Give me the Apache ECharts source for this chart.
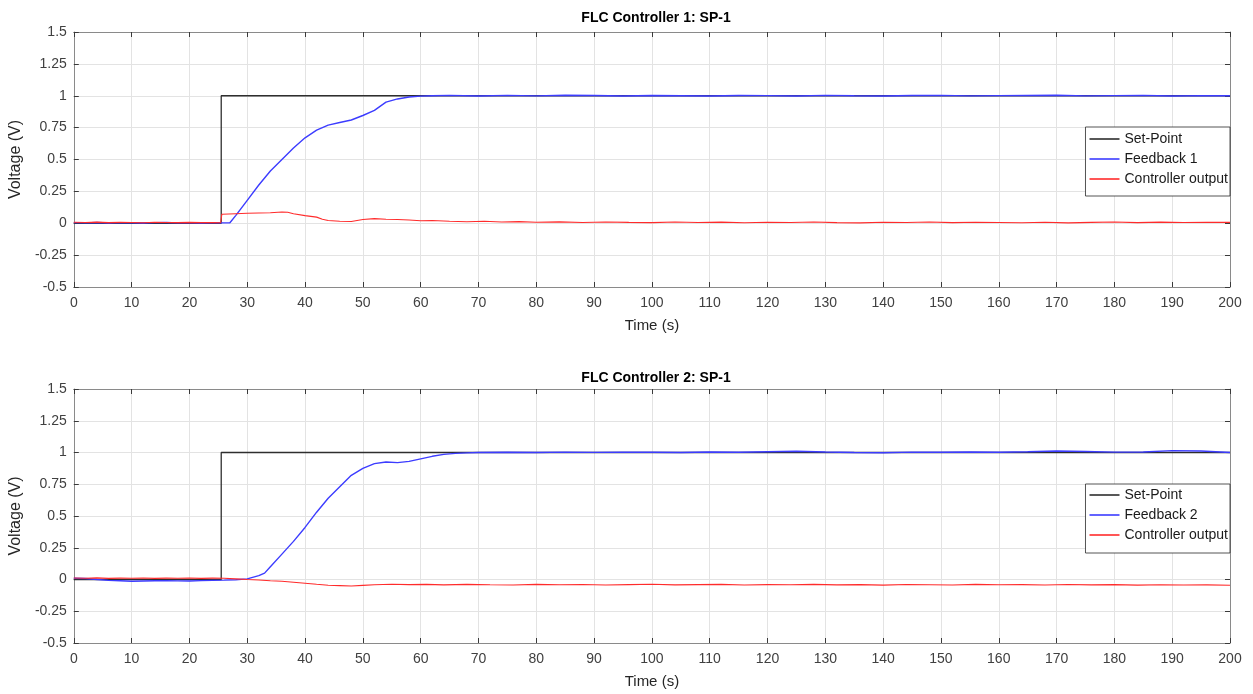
<!DOCTYPE html>
<html><head><meta charset="utf-8">
<script src="https://cdn.jsdelivr.net/npm/echarts@6/dist/echarts.min.js"></script>
<style>html,body{margin:0;padding:0;background:#fff}#c{width:1253px;height:694px}</style>
</head><body><div id="c"></div>
<script>
// ---- tick labels / titles ----
const titles = ['FLC Controller 1: SP-1', 'FLC Controller 2: SP-1'];
const fbNames = ['Feedback 1', 'Feedback 2'];
const xTicks = {min: 0, max: 200, interval: 10};
const yTicks = {min: -0.5, max: 1.5, interval: 0.25};

// ---- Set-Point (both plots) ----
const spTime = [0, 25.5, 25.5, 200];
const spVal  = [0, 0, 1, 1];

// ---- Plot 1 : Feedback 1 ----
const fb1Time = [0,2,4,6,8,10,12,14,16,18,20,22,24,26,27,28,30,32,34,36,38,40,42,44,46,48,50,52,54,56,58,60,62,65,70,75,80,85,90,95,100,105,110,115,120,125,130,135,140,145,150,155,160,165,170,175,180,185,190,195,200];
const fb1Val  = [0.005,0.003,0.006,0.002,0.005,0.004,0.002,0.005,0.006,0.003,0.004,0.002,0.004,0.003,0.004,0.06,0.18,0.30,0.41,0.50,0.59,0.67,0.73,0.77,0.79,0.81,0.845,0.885,0.95,0.975,0.99,0.997,1.0,1.003,0.998,1.003,0.999,1.004,1.002,0.998,1.002,1.0,0.998,1.002,1.001,0.998,1.003,1.0,0.998,1.002,1.003,0.999,1.001,1.002,1.004,0.999,1.001,1.003,0.998,1.001,1.0];

// ---- Plot 1 : Controller output ----
const co1Time = [0,2,4,6,8,10,12,14,16,18,20,22,24,25.4,25.6,28,30,32,34,36,37,38,40,42,43,44,46,48,50,52,54,56,58,60,62,65,68,71,74,77,80,84,88,92,96,100,104,108,112,116,120,124,128,132,136,140,144,148,152,156,160,164,168,172,176,180,184,188,192,196,200];
const co1Val  = [0.008,0.006,0.009,0.005,0.007,0.006,0.004,0.008,0.006,0.005,0.007,0.005,0.006,0.004,0.07,0.075,0.078,0.08,0.082,0.088,0.086,0.075,0.06,0.048,0.032,0.022,0.016,0.014,0.03,0.036,0.031,0.03,0.026,0.02,0.021,0.016,0.012,0.016,0.01,0.013,0.008,0.011,0.006,0.01,0.007,0.005,0.01,0.006,0.009,0.004,0.008,0.006,0.01,0.005,0.003,0.008,0.006,0.01,0.005,0.008,0.006,0.004,0.008,0.003,0.007,0.01,0.005,0.009,0.006,0.008,0.007];

// ---- Plot 2 : Feedback 2 ----
const fb2Time = [0,2,4,6,8,10,12,14,16,18,20,22,24,26,28,30,32,33,34,36,38,40,42,44,46,48,50,52,54,56,58,60,62,64,66,68,70,75,80,85,90,95,100,105,110,115,120,125,130,135,140,145,150,155,160,165,170,175,180,185,190,195,200];
const fb2Val  = [0.01,0.008,0.0,-0.007,-0.01,-0.014,-0.012,-0.01,-0.01,-0.011,-0.012,-0.009,-0.007,-0.005,-0.002,0.005,0.03,0.05,0.1,0.2,0.30,0.41,0.53,0.64,0.73,0.82,0.875,0.912,0.925,0.92,0.93,0.95,0.97,0.985,0.993,0.997,1.0,1.002,1.0,1.003,1.001,1.003,1.002,1.0,1.004,1.002,1.006,1.01,1.004,1.0,0.998,1.003,1.002,1.004,1.002,1.006,1.012,1.008,1.003,1.004,1.015,1.012,1.0];

// ---- Plot 2 : Controller output ----
const co2Time = [0,2,4,6,8,10,12,14,16,18,20,22,24,26,28,30,32,34,36,38,40,42,44,46,48,50,52,55,58,61,64,68,72,76,80,84,88,92,96,100,104,108,112,116,120,124,128,132,136,140,144,148,152,156,160,164,168,172,176,180,184,188,192,196,200];
const co2Val  = [0.012,0.01,0.013,0.009,0.011,0.01,0.012,0.009,0.011,0.01,0.012,0.009,0.011,0.01,0.005,0.0,-0.004,-0.01,-0.014,-0.022,-0.03,-0.038,-0.045,-0.048,-0.051,-0.046,-0.041,-0.037,-0.04,-0.038,-0.042,-0.038,-0.041,-0.043,-0.038,-0.041,-0.039,-0.043,-0.04,-0.037,-0.042,-0.04,-0.038,-0.043,-0.04,-0.041,-0.038,-0.042,-0.04,-0.044,-0.039,-0.041,-0.043,-0.038,-0.041,-0.04,-0.043,-0.039,-0.042,-0.04,-0.044,-0.041,-0.043,-0.042,-0.045];

const pairs = (t, v) => t.map((x, i) => [x, v[i]]);

const FONT = 'Liberation Sans, Arial, Helvetica, sans-serif';
const C_SP = '#2e2e2e', C_FB = '#3c3cff', C_CO = '#ff2b2b';
const frame = '#8a8a8a', tickCol = '#3a3a3a', labelCol = '#404040', gridCol = '#e3e3e3';

const grids = [
  {left: 72, right: 23, top: 32, height: 255},
  {left: 72, right: 23, top: 389, height: 254}
];

const xAxes = [], yAxes = [];
grids.forEach((g, gi) => {
  xAxes.push({
    type: 'value', gridIndex: gi, min: xTicks.min, max: xTicks.max, interval: xTicks.interval,
    position: 'bottom',
    name: 'Time (s)', nameLocation: 'middle', nameGap: 31,
    nameTextStyle: {fontFamily: FONT, fontSize: 15, color: '#262626'},
    axisLine: {show: true, onZero: false, lineStyle: {color: frame, width: 1}},
    axisTick: {show: true, inside: true, length: 5, lineStyle: {color: tickCol}},
    axisLabel: {fontFamily: FONT, fontSize: 14, color: labelCol, margin: 9},
    splitLine: {show: true, lineStyle: {color: gridCol, width: 1}}
  });
  xAxes.push({
    type: 'value', gridIndex: gi, min: xTicks.min, max: xTicks.max, interval: xTicks.interval,
    position: 'top',
    axisLine: {show: true, onZero: false, lineStyle: {color: frame, width: 1}},
    axisTick: {show: true, inside: true, length: 5, lineStyle: {color: tickCol}},
    axisLabel: {show: false}, splitLine: {show: false}
  });
  yAxes.push({
    type: 'value', gridIndex: gi, min: yTicks.min, max: yTicks.max, interval: yTicks.interval,
    position: 'left',
    name: 'Voltage (V)', nameLocation: 'middle', nameGap: 44,
    nameTextStyle: {fontFamily: FONT, fontSize: 16, color: '#262626'},
    axisLine: {show: true, onZero: false, lineStyle: {color: frame, width: 1}},
    axisTick: {show: true, inside: true, length: 5, lineStyle: {color: tickCol}},
    axisLabel: {fontFamily: FONT, fontSize: 14, color: labelCol, margin: 7},
    splitLine: {show: true, lineStyle: {color: gridCol, width: 1}}
  });
  yAxes.push({
    type: 'value', gridIndex: gi, min: yTicks.min, max: yTicks.max, interval: yTicks.interval,
    position: 'right',
    axisLine: {show: true, onZero: false, lineStyle: {color: frame, width: 1}},
    axisTick: {show: true, inside: true, length: 5, lineStyle: {color: tickCol}},
    axisLabel: {show: false}, splitLine: {show: false}
  });
});

function line(name, data, color, gi, w) {
  return {
    name, type: 'line', data, xAxisIndex: gi * 2, yAxisIndex: gi * 2,
    showSymbol: false, symbol: 'none', animation: false, smooth: false,
    lineStyle: {color, width: w}, itemStyle: {color}
  };
}

const series = [
  line('Set-Point', pairs(spTime, spVal), C_SP, 0, 1.3),
  line(fbNames[0], pairs(fb1Time, fb1Val), C_FB, 0, 1.4),
  line('Controller output', pairs(co1Time, co1Val), C_CO, 0, 1.1),
  line('Set-Point', pairs(spTime, spVal), C_SP, 1, 1.3),
  line(fbNames[1], pairs(fb2Time, fb2Val), C_FB, 1, 1.4),
  line('Controller output', pairs(co2Time, co2Val), C_CO, 1, 1.1)
];

function legend(top, fbName, pad) {
  return {
    orient: 'vertical', right: 23, top,
    data: ['Set-Point', fbName, 'Controller output'].map(n => ({name: n, icon: 'rect'})),
    itemWidth: 30, itemHeight: 1.6, itemGap: 4,
    backgroundColor: '#fff', borderColor: '#2a2a2a', borderWidth: 0.8, borderRadius: 0,
    padding: pad, selectedMode: false,
    textStyle: {fontFamily: FONT, fontSize: 14, color: '#1a1a1a', lineHeight: 16}
  };
}

const chart = echarts.init(document.getElementById('c'), null, {renderer: 'canvas'});
chart.setOption({
  backgroundColor: '#fff',
  animation: false,
  title: [
    {text: titles[0], left: 651, top: 6, textAlign: 'center', textStyle: {fontFamily: FONT, fontSize: 14, fontWeight: 'bold', color: '#000'}},
    {text: titles[1], left: 651, top: 366, textAlign: 'center', textStyle: {fontFamily: FONT, fontSize: 14, fontWeight: 'bold', color: '#000'}}
  ],
  legend: [legend(127, fbNames[0], [4, 2, 9, 4]), legend(484, fbNames[1], [3, 2, 10, 4])],
  grid: grids,
  xAxis: xAxes,
  yAxis: yAxes,
  series
});
</script>
</body></html>
